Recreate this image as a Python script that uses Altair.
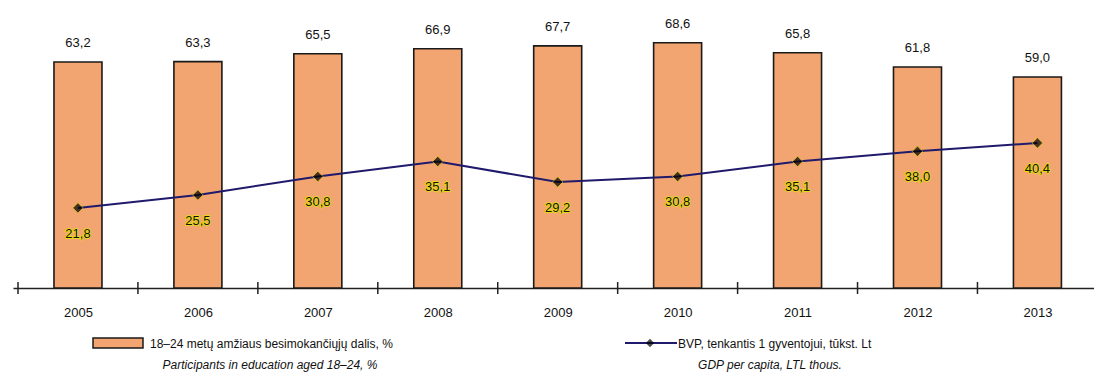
import altair as alt
import pandas as pd

years = [2005, 2006, 2007, 2008, 2009, 2010, 2011, 2012, 2013]
share_pct = [63.2, 63.3, 65.5, 66.9, 67.7, 68.6, 65.8, 61.8, 59.0]
gdp_thous = [21.8, 25.5, 30.8, 35.1, 29.2, 30.8, 35.1, 38.0, 40.4]
boundaries = [2004.5, 2005.5, 2006.5, 2007.5, 2008.5, 2009.5, 2010.5, 2011.5, 2012.5]

df = pd.DataFrame({
    "year": years,
    "share": share_pct,
    "gdp": gdp_thous,
    "share_lbl": [f"{v:.1f}".replace(".", ",") for v in share_pct],
    "gdp_lbl": [f"{v:.1f}".replace(".", ",") for v in gdp_thous],
})
tick_df = pd.DataFrame({"b": boundaries})

W, H = 1081, 270
FONT = "Liberation Sans"
xs = alt.Scale(domain=[2004.5, 2013.43], nice=False, zero=False)
y1 = alt.Scale(domain=[0, 75.5], nice=False)
y2 = alt.Scale(domain=[-1.15, 76.2], nice=False)
xaxis = alt.Axis(values=years, format="d", ticks=False, grid=False, title=None,
                 domainColor="#222", domainWidth=1.5, labelFont=FONT,
                 labelFontSize=13, labelColor="#111", labelPadding=18)

def X(field):
    return alt.X(field, scale=xs, axis=xaxis)

base = alt.Chart(df)

bars = base.mark_bar(size=48, color="#F2A571", stroke="#1a1a1a", strokeWidth=1.6).encode(
    x=X("year:Q"), y=alt.Y("share:Q", scale=y1, axis=None))
bar_lbl = base.mark_text(font=FONT, fontSize=13, color="#111", dy=-19, baseline="middle").encode(
    x=X("year:Q"), y=alt.Y("share:Q", scale=y1, axis=None), text="share_lbl:N")

# axis tick marks crossing the baseline at category boundaries
ticks = alt.Chart(tick_df).mark_rule(color="#222", strokeWidth=1.5).encode(
    x=X("b:Q"), y=alt.value(H - 6), y2=alt.value(H + 6))

line = base.mark_line(color="#1F1A6B", strokeWidth=2).encode(
    x=X("year:Q"), y=alt.Y("gdp:Q", scale=y2, axis=None))
pts = base.mark_point(shape="diamond", filled=True, size=110, color="#000",
                      stroke="#E8E000", strokeWidth=0.8).encode(
    x=X("year:Q"), y=alt.Y("gdp:Q", scale=y2, axis=None))
gdp_halo = base.mark_text(font=FONT, fontSize=13, color="#E8E000", stroke="#E8E000",
                          strokeWidth=1.5, dy=26, baseline="middle").encode(
    x=X("year:Q"), y=alt.Y("gdp:Q", scale=y2, axis=None), text="gdp_lbl:N")
gdp_lbl = base.mark_text(font=FONT, fontSize=13, color="#111", dy=26, baseline="middle").encode(
    x=X("year:Q"), y=alt.Y("gdp:Q", scale=y2, axis=None), text="gdp_lbl:N")

# legend (drawn below the plot)
one = pd.DataFrame({"k": [0]})
lg = alt.Chart(one)
sw_bar = lg.mark_rect(color="#F2A571", stroke="#1a1a1a", strokeWidth=1.5).encode(
    x=alt.value(80), x2=alt.value(130), y=alt.value(320), y2=alt.value(330))
t1 = lg.mark_text(font=FONT, fontSize=12, color="#111", align="left", baseline="middle").encode(
    x=alt.value(137), y=alt.value(326), text=alt.value("18–24 metų amžiaus besimokančiųjų dalis, %"))
t2 = lg.mark_text(font=FONT, fontSize=12, fontStyle="italic", color="#111", align="center",
                  baseline="middle").encode(
    x=alt.value(257), y=alt.value(347), text=alt.value("Participants in education aged 18–24, %"))
sw_line = lg.mark_rect(color="#1F1A6B").encode(
    x=alt.value(612), x2=alt.value(664), y=alt.value(324), y2=alt.value(326))
sw_pt = lg.mark_point(shape="diamond", filled=True, size=70, color="#000").encode(
    x=alt.value(637), y=alt.value(325))
t3 = lg.mark_text(font=FONT, fontSize=12, color="#111", align="left", baseline="middle").encode(
    x=alt.value(665), y=alt.value(326), text=alt.value("BVP, tenkantis 1 gyventojui, tūkst. Lt"))
t4 = lg.mark_text(font=FONT, fontSize=12, fontStyle="italic", color="#111", align="center",
                  baseline="middle").encode(
    x=alt.value(757), y=alt.value(347), text=alt.value("GDP per capita, LTL thous."))

chart = alt.layer(
    bars, bar_lbl, ticks, line, pts, gdp_halo, gdp_lbl,
    sw_bar, t1, t2, sw_line, sw_pt, t3, t4
).resolve_scale(y="independent").properties(
    width=W, height=H,
    background="white",
    autosize=alt.AutoSizeParams(type="none"),
    padding={"left": 13, "top": 18, "right": 0, "bottom": 88},
).configure_view(strokeWidth=0, stroke=None)

chart.save("out.html", embed_options={"renderer": "svg", "actions": False})
